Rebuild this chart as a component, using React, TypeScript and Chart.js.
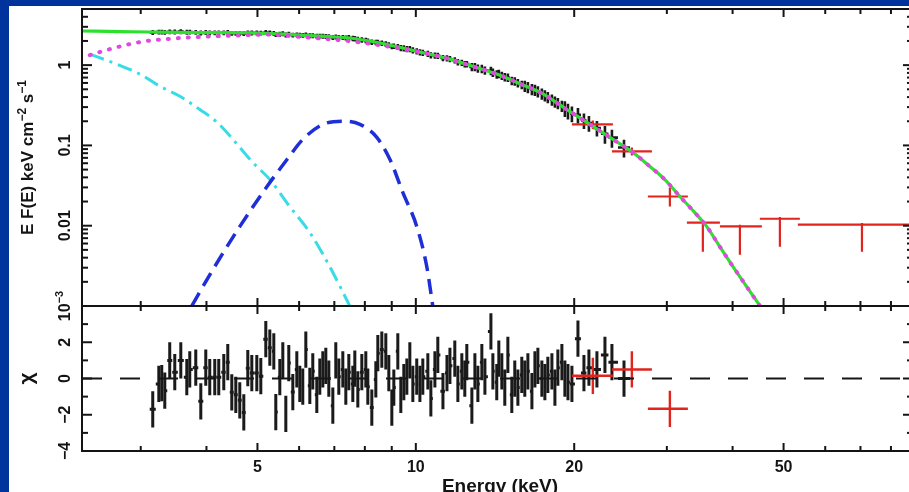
import React, { useEffect, useRef } from 'react';
import { Chart, registerables } from 'chart.js';
Chart.register(...registerables);

// ---------------- data ----------------
// black spectrum: bin centre energies (keV)
const energies = [
  3.162, 3.247, 3.289, 3.333, 3.406, 3.482, 3.575, 3.670, 3.718, 3.817,
  3.902, 3.988, 4.058, 4.148, 4.221, 4.315, 4.391, 4.469, 4.548, 4.628,
  4.710, 4.793, 4.878, 4.986, 5.074, 5.186, 5.278, 5.371, 5.418, 5.514,
  5.587, 5.661, 5.735, 5.837, 5.940, 6.018, 6.097, 6.179, 6.288, 6.370,
  6.483, 6.569, 6.656, 6.744, 6.833, 6.954, 7.045, 7.138, 7.265, 7.361,
  7.458, 7.590, 7.657, 7.758, 7.895, 8.034, 8.105, 8.248, 8.394, 8.468,
  8.617, 8.769, 8.885, 9.003, 9.082, 9.242, 9.364, 9.488, 9.614, 9.741,
  9.870, 10.04, 10.18, 10.31, 10.54, 10.68, 10.87, 11.01, 11.26, 11.46,
  11.61, 11.86, 12.02, 12.23, 12.39, 12.50, 12.78, 12.95, 13.12, 13.35,
  13.53, 13.89, 14.01, 14.25, 14.38, 14.57, 14.76, 14.96, 15.22, 15.42,
  15.63, 15.90, 16.11, 16.33, 16.62, 16.84, 17.06, 17.36, 17.59, 17.82,
  18.14, 18.38, 18.62, 18.95, 19.20, 19.46, 19.80, 20.33, 20.87, 21.33,
  22.09, 22.88, 23.59, 24.87,
];
// black spectrum: E F(E)
const blackFlux = [
  2.55, 2.58, 2.58, 2.56, 2.60, 2.59, 2.61, 2.57, 2.58, 2.56,
  2.52, 2.55, 2.53, 2.53, 2.53, 2.53, 2.55, 2.49, 2.49, 2.48,
  2.47, 2.53, 2.52, 2.52, 2.51, 2.55, 2.52, 2.48, 2.41, 2.43,
  2.46, 2.38, 2.43, 2.37, 2.39, 2.36, 2.35, 2.39, 2.33, 2.33,
  2.29, 2.30, 2.29, 2.28, 2.26, 2.21, 2.25, 2.22, 2.21, 2.18,
  2.19, 2.15, 2.14, 2.09, 2.06, 2.03, 1.99, 1.93, 1.92, 1.92,
  1.88, 1.83, 1.78, 1.71, 1.72, 1.70, 1.63, 1.62, 1.59, 1.59,
  1.53, 1.49, 1.45, 1.43, 1.39, 1.33, 1.32, 1.31, 1.23, 1.22,
  1.19, 1.15, 1.09, 1.07, 1.03, 1.03, 0.95, 0.95, 0.91, 0.90,
  0.86, 0.85, 0.81, 0.77, 0.78, 0.74, 0.71, 0.70, 0.64, 0.63,
  0.60, 0.57, 0.55, 0.53, 0.50, 0.49, 0.47, 0.44, 0.42, 0.40,
  0.37, 0.35, 0.335, 0.31, 0.29, 0.27, 0.25, 0.24, 0.205, 0.19,
  0.165, 0.14, 0.125, 0.094,
];
// black spectrum: flux error (percent)
const blackFluxErrPct = [
  7, 7, 7, 7, 7, 7, 7, 7, 7, 7,
  7, 7, 7, 7, 7, 7, 7, 7, 7, 7,
  7, 7, 7, 7, 7, 7, 7, 7, 7, 7,
  7, 7, 7, 7, 7, 7, 7, 7, 7, 7,
  7, 7, 7, 7, 7, 7, 7, 7, 7, 7,
  8, 8, 8, 8, 8, 8, 8, 8, 8, 8,
  8, 8, 8, 8, 8, 8, 9, 9, 9, 9,
  9, 9, 9, 9, 9, 9, 9, 9, 9, 9,
  9, 9, 9, 9, 9, 9, 12, 12, 12, 12,
  12, 12, 12, 12, 12, 12, 12, 12, 12, 12,
  12, 12, 16, 16, 16, 16, 16, 16, 16, 16,
  16, 16, 16, 16, 22, 22, 22, 22, 22, 22,
  22, 25, 25, 25,
];
// black spectrum: residuals (chi)
const residuals = [
  -1.7, -0.3, -0.25, -0.67, 1.0, 0.35, 1.0, 0.07, 0.5, 0.6,
  -1.26, 0.6, 0.07, 0.07, 0.07, 0.35, 0.9, -0.76, -0.9, -1.2,
  -1.87, 0.57, 0.3, 0.3, 0.13, 2.17, 1.7, 1.5, -1.85, 0.07,
  1.0, -1.95, 0.85, -0.75, 0.5, -0.3, -0.45, 1.6, -0.4, 0.4,
  -0.9, 0.1, 0.5, 0.7, 0.0, -1.5, 1.0, 0.1, 0.5, -0.45,
  0.35, -0.3, 0.55, -0.6, 0.35, 0.5, -0.45, -1.6, -0.05, 1.4,
  1.6, 1.5, 0.3, -1.6, -0.5, 1.5, -0.9, -0.2, 0.1, 1.0,
  -0.3, 0.1, -0.3, 0.1, 0.4, -1.1, 0.5, 1.3, -0.7, 0.3,
  0.7, 1.1, -0.3, 0.4, 0.0, 0.9, -1.5, 0.4, -0.3, 0.9,
  0.1, 2.6, 0.4, -0.2, 1.1, 0.4, -0.5, 1.3, -0.9, 0.0,
  -0.5, 0.2, 0.0, 0.4, -0.7, 0.5, 0.7, 0.0, -0.2, 0.2,
  0.4, -0.5, 0.6, 0.9, 0.0, -0.2, -0.3, 2.2, 0.3, 0.6,
  0.5, 1.3, 0.9, 0.0,
];
const residualSigma = 1;

// red spectrum
const redEnergy = [21.70, 25.74, 30.40, 35.12, 41.30, 49.20, 70.46];
const redELo = [19.80, 23.59, 27.61, 32.75, 37.84, 45.07, 53.23];
const redEHi = [23.69, 28.10, 32.89, 37.84, 45.47, 53.70, 95.0];
const redFlux = [0.183, 0.0841, 0.0231, 0.0109, 0.0098, 0.0122, 0.0103];
const redFluxLo = [0.16, 0.075, 0.0173, 0.00475, 0.00436, 0.00546, 0.00474];
const redFluxHi = [0.205, 0.094, 0.0299, 0.0115, 0.0103, 0.0128, 0.0108];
const redResiduals = [0.15, 0.5, -1.67];

// model components
const totalE = [2.32, 2.74, 3.12, 3.88, 5.0, 6.02, 6.86, 7.49, 8.54, 10.0, 11.61, 12.95, 14.45, 15.77, 17.21, 19.2, 21.42, 23.7, 25.85, 27.85, 29.74, 31.76, 33.77, 35.7, 37.84, 40.1, 42.6, 45.1];
const totalFlux = [2.66, 2.62, 2.585, 2.54, 2.51, 2.37, 2.26, 2.175, 1.884, 1.496, 1.189, 0.947, 0.75, 0.587, 0.46, 0.29, 0.183, 0.119, 0.0819, 0.0547, 0.0375, 0.0231, 0.015, 0.0098, 0.00546, 0.00307, 0.00172, 0.001];
const comptE = [2.40, 2.62, 2.99, 3.36, 3.88, 4.49, 5.21, 6.02, 6.86, 7.49, 8.54, 10.0, 11.61, 12.95, 14.45, 15.77, 17.21, 19.2, 21.42, 23.7, 25.85, 27.85, 29.74, 31.76, 33.77, 35.7, 37.84, 40.1, 42.6, 45.1];
const comptFlux = [1.33, 1.58, 1.94, 2.11, 2.25, 2.33, 2.40, 2.25, 2.10, 1.99, 1.77, 1.48, 1.185, 0.945, 0.748, 0.586, 0.459, 0.29, 0.183, 0.119, 0.0819, 0.0547, 0.0375, 0.0231, 0.015, 0.0098, 0.00546, 0.00307, 0.00172, 0.001];
const diskE = [2.40, 2.70, 2.99, 3.26, 3.56, 3.88, 4.19, 4.49, 4.90, 5.28, 5.76, 6.29, 6.86, 7.49];
const diskFlux = [1.37, 1.03, 0.772, 0.547, 0.41, 0.282, 0.194, 0.119, 0.0612, 0.0375, 0.0173, 0.0082, 0.0031, 0.001];
const lineE = [3.75, 4.11, 4.63, 5.21, 5.69, 6.10, 6.66, 7.26, 7.83, 8.43, 8.93, 9.45, 10.04, 10.49, 10.77];
const lineFlux = [0.001, 0.00281, 0.0098, 0.0306, 0.0667, 0.119, 0.183, 0.2, 0.183, 0.126, 0.0667, 0.0258, 0.0098, 0.0031, 0.001];

// axes
const xMajorTicks = [5, 10, 20, 50];
const xMinorTicks = [3, 4, 6, 7, 8, 9, 30, 40, 60, 70, 80];
const xTickLabels = ['5', '10', '20', '50'];
const yTopDecades = [0.001, 0.01, 0.1, 1];
const yTopMinorMult = [2, 3, 4, 5, 6, 7, 8, 9];
const yTopLabels = ['10|−3', '0.01', '0.1', '1'];
const yResMajor = [-4, -2, 0, 2, 4];
const yResMinor = [-3, -1, 1, 3];
const yResLabels = ['−4', '−2', '0', '2'];

const X_MIN = 2.32;
const X_MAX = 88.1;
const Y_MIN = 0.001;
const Y_MAX = 5;

// ---------------- layout ----------------
const CW = 920;
const CH = 492;
const LEFT = 82;
const RIGHT = 913;
const TOP = 9;
const MID = 306;
const BOTTOM = 451;
const BG = '#00349c';
const FONT = '"Liberation Sans", Arial, Helvetica, sans-serif';
const INK = '#141414';

function drawRotated(ctx: CanvasRenderingContext2D, x: number, y: number, runs: { text: string; font: string; rise?: number }[]) {
  ctx.save();
  ctx.translate(x, y);
  ctx.rotate(-Math.PI / 2);
  let total = 0;
  runs.forEach((r) => { ctx.font = r.font; total += ctx.measureText(r.text).width; });
  let cx = -total / 2;
  ctx.textAlign = 'left';
  ctx.textBaseline = 'alphabetic';
  ctx.fillStyle = INK;
  runs.forEach((r) => {
    ctx.font = r.font;
    ctx.fillText(r.text, cx, -(r.rise || 0));
    cx += ctx.measureText(r.text).width;
  });
  ctx.restore();
}

const errorBarPlugin = {
  id: 'errorBars',
  beforeDatasetsDraw(chart: any) {
    const { ctx, chartArea: a } = chart;
    const xs = chart.scales.x;
    const ys = chart.scales.y;
    ctx.save();
    ctx.beginPath();
    ctx.rect(a.left, a.top, a.right - a.left, a.bottom - a.top);
    ctx.clip();
    chart.data.datasets.forEach((ds: any) => {
      if (!ds.errorBars) return;
      ctx.strokeStyle = ds.borderColor;
      ctx.lineWidth = ds.errorWidth || 2;
      ds.data.forEach((p: any) => {
        const px = xs.getPixelForValue(p.x);
        const py = ys.getPixelForValue(p.y);
        ctx.beginPath();
        ctx.moveTo(xs.getPixelForValue(p.xMin), py);
        ctx.lineTo(xs.getPixelForValue(p.xMax), py);
        ctx.moveTo(px, ys.getPixelForValue(p.yMin));
        ctx.lineTo(px, ys.getPixelForValue(p.yMax));
        ctx.stroke();
      });
    });
    ctx.restore();
  },
};

function tick(ctx: CanvasRenderingContext2D, x1: number, y1: number, x2: number, y2: number) {
  ctx.beginPath();
  ctx.moveTo(x1, y1);
  ctx.lineTo(x2, y2);
  ctx.stroke();
}

function drawXTicks(ctx: CanvasRenderingContext2D, xs: any, a: any) {
  xMajorTicks.forEach((v) => {
    const p = xs.getPixelForValue(v);
    tick(ctx, p, a.top, p, a.top + 8);
    tick(ctx, p, a.bottom, p, a.bottom - 8);
  });
  xMinorTicks.forEach((v) => {
    const p = xs.getPixelForValue(v);
    tick(ctx, p, a.top, p, a.top + 5);
    tick(ctx, p, a.bottom, p, a.bottom - 5);
  });
}

const topFramePlugin = {
  id: 'topFrame',
  afterDraw(chart: any) {
    const { ctx, chartArea: a } = chart;
    const xs = chart.scales.x;
    const ys = chart.scales.y;
    ctx.save();
    ctx.strokeStyle = INK;
    ctx.lineWidth = 2;
    ctx.strokeRect(a.left, a.top, a.right - a.left, a.bottom - a.top);
    drawXTicks(ctx, xs, a);
    yTopDecades.forEach((d, i) => {
      const p = ys.getPixelForValue(d);
      tick(ctx, a.left, p, a.left + 10, p);
      tick(ctx, a.right, p, a.right - 10, p);
      yTopMinorMult.forEach((m) => {
        const v = d * m;
        if (v > Y_MAX) return;
        const q = ys.getPixelForValue(v);
        tick(ctx, a.left, q, a.left + 6, q);
        tick(ctx, a.right, q, a.right - 6, q);
      });
      const lab = yTopLabels[i];
      const bold = `bold 16px ${FONT}`;
      if (lab.includes('|')) {
        const [base, sup] = lab.split('|');
        drawRotated(ctx, 70, p, [
          { text: base, font: bold },
          { text: sup, font: `bold 11px ${FONT}`, rise: 7 },
        ]);
      } else {
        drawRotated(ctx, 70, p, [{ text: lab, font: bold }]);
      }
    });
    const tf = `bold 17px ${FONT}`;
    const sf = `bold 12px ${FONT}`;
    drawRotated(ctx, 33, (a.top + a.bottom) / 2, [
      { text: 'E F(E) keV cm', font: tf },
      { text: '−2', font: sf, rise: 7 },
      { text: ' s', font: tf },
      { text: '−1', font: sf, rise: 7 },
    ]);
    ctx.restore();
  },
};

const botFramePlugin = {
  id: 'botFrame',
  afterDraw(chart: any) {
    const { ctx, chartArea: a } = chart;
    const xs = chart.scales.x;
    const ys = chart.scales.y;
    ctx.save();
    ctx.strokeStyle = INK;
    ctx.lineWidth = 2;
    ctx.strokeRect(a.left, a.top, a.right - a.left, a.bottom - a.top);
    drawXTicks(ctx, xs, a);
    yResMajor.forEach((v) => {
      const p = ys.getPixelForValue(v);
      tick(ctx, a.left, p, a.left + 10, p);
      tick(ctx, a.right, p, a.right - 10, p);
    });
    yResMinor.forEach((v) => {
      const p = ys.getPixelForValue(v);
      tick(ctx, a.left, p, a.left + 6, p);
      tick(ctx, a.right, p, a.right - 6, p);
    });
    yResLabels.forEach((lab) => {
      const v = Number(lab.replace('−', '-'));
      drawRotated(ctx, 70, ys.getPixelForValue(v), [{ text: lab, font: `bold 16px ${FONT}` }]);
    });
    drawRotated(ctx, 33, ys.getPixelForValue(0), [{ text: 'χ', font: `bold 21px ${FONT}` }]);
    ctx.fillStyle = INK;
    ctx.font = `bold 16px ${FONT}`;
    ctx.textAlign = 'center';
    ctx.textBaseline = 'alphabetic';
    xMajorTicks.forEach((v, i) => {
      ctx.fillText(xTickLabels[i], xs.getPixelForValue(v), a.bottom + 21);
    });
    ctx.font = `bold 19px ${FONT}`;
    ctx.fillText('Energy (keV)', 500, 492);
    ctx.restore();
  },
};

function binEdges(i: number): [number, number] {
  const e = energies[i];
  const prev = i > 0 ? energies[i - 1] : e * e / energies[i + 1];
  const next = i < energies.length - 1 ? energies[i + 1] : e * e / energies[i - 1];
  return [Math.sqrt(prev * e), Math.sqrt(e * next)];
}

function curve(es: number[], vs: number[]) {
  return es.map((e, i) => ({ x: e, y: vs[i] }));
}

function baseOptions(padTop: number, padBottom: number, yScale: any) {
  return {
    responsive: false,
    animation: false as const,
    events: [] as any[],
    layout: { padding: { left: LEFT, right: CW - RIGHT, top: padTop, bottom: padBottom } },
    plugins: { legend: { display: false }, tooltip: { enabled: false } },
    scales: {
      x: { type: 'logarithmic', min: X_MIN, max: X_MAX, display: false, bounds: 'data' },
      y: yScale,
    },
  };
}

export default function App() {
  const topRef = useRef<HTMLCanvasElement>(null);
  const botRef = useRef<HTMLCanvasElement>(null);

  useEffect(() => {
    const lineBase = { pointRadius: 0, fill: false, cubicInterpolationMode: 'monotone', clip: 0 };
    const blackTop = energies.map((e, i) => {
      const [lo, hi] = binEdges(i);
      const f = blackFlux[i];
      const df = (f * blackFluxErrPct[i]) / 100;
      return { x: e, y: f, xMin: lo, xMax: hi, yMin: f - df, yMax: f + df };
    });
    const redTop = redEnergy.map((e, i) => ({
      x: e, y: redFlux[i], xMin: redELo[i], xMax: redEHi[i], yMin: redFluxLo[i], yMax: redFluxHi[i],
    }));
    const top = new Chart(topRef.current as HTMLCanvasElement, {
      type: 'line',
      data: {
        datasets: [
          { ...lineBase, data: curve(comptE, comptFlux), borderColor: '#e048e0', borderWidth: 4, borderDash: [1, 9], borderCapStyle: 'round' },
          { ...lineBase, data: curve(totalE, totalFlux), borderColor: '#2ee02e', borderWidth: 3.2 },
          { ...lineBase, data: curve(lineE, lineFlux), borderColor: '#1f2fd8', borderWidth: 3.5, borderDash: [15, 8] },
          { ...lineBase, data: curve(diskE, diskFlux), borderColor: '#38dce6', borderWidth: 3, borderDash: [15, 6, 3, 6] },
          { data: blackTop, errorBars: true, showLine: false, pointRadius: 0, borderColor: '#1a1a1a', errorWidth: 2.6 },
          { data: redTop, errorBars: true, showLine: false, pointRadius: 0, borderColor: '#e0251f', errorWidth: 2.2 },
        ] as any,
      },
      options: baseOptions(TOP, CH - MID, { type: 'logarithmic', min: Y_MIN, max: Y_MAX, display: false, bounds: 'data' }) as any,
      plugins: [errorBarPlugin, topFramePlugin],
    });

    const blackRes = energies.map((e, i) => {
      const [lo, hi] = binEdges(i);
      const r = residuals[i];
      return { x: e, y: r, xMin: lo, xMax: hi, yMin: r - residualSigma, yMax: r + residualSigma };
    });
    const redRes = redResiduals.map((r, i) => ({
      x: redEnergy[i], y: r, xMin: redELo[i], xMax: redEHi[i], yMin: r - residualSigma, yMax: r + residualSigma,
    }));
    const bot = new Chart(botRef.current as HTMLCanvasElement, {
      type: 'line',
      data: {
        datasets: [
          { pointRadius: 0, data: [{ x: X_MIN, y: 0 }, { x: X_MAX, y: 0 }], borderColor: '#161616', borderWidth: 2, borderDash: [20, 18] },
          { data: blackRes, errorBars: true, showLine: false, pointRadius: 0, borderColor: '#1a1a1a', errorWidth: 3 },
          { data: redRes, errorBars: true, showLine: false, pointRadius: 0, borderColor: '#e0251f', errorWidth: 2.4 },
        ] as any,
      },
      options: baseOptions(MID, CH - BOTTOM, { type: 'linear', min: -4, max: 4, display: false, bounds: 'data' }) as any,
      plugins: [errorBarPlugin, botFramePlugin],
    });

    return () => {
      top.destroy();
      bot.destroy();
    };
  }, []);

  const canvasStyle: React.CSSProperties = { position: 'absolute', left: 0, top: 0, width: CW, height: CH };
  return (
    <div style={{ position: 'fixed', left: 0, top: 0, width: 909, height: 492, overflow: 'hidden', background: BG }}>
      <div style={{ position: 'absolute', left: 9, top: 6, right: 0, bottom: 0, background: '#ffffff' }} />
      <canvas ref={topRef} width={CW} height={CH} style={canvasStyle} />
      <canvas ref={botRef} width={CW} height={CH} style={canvasStyle} />
    </div>
  );
}
